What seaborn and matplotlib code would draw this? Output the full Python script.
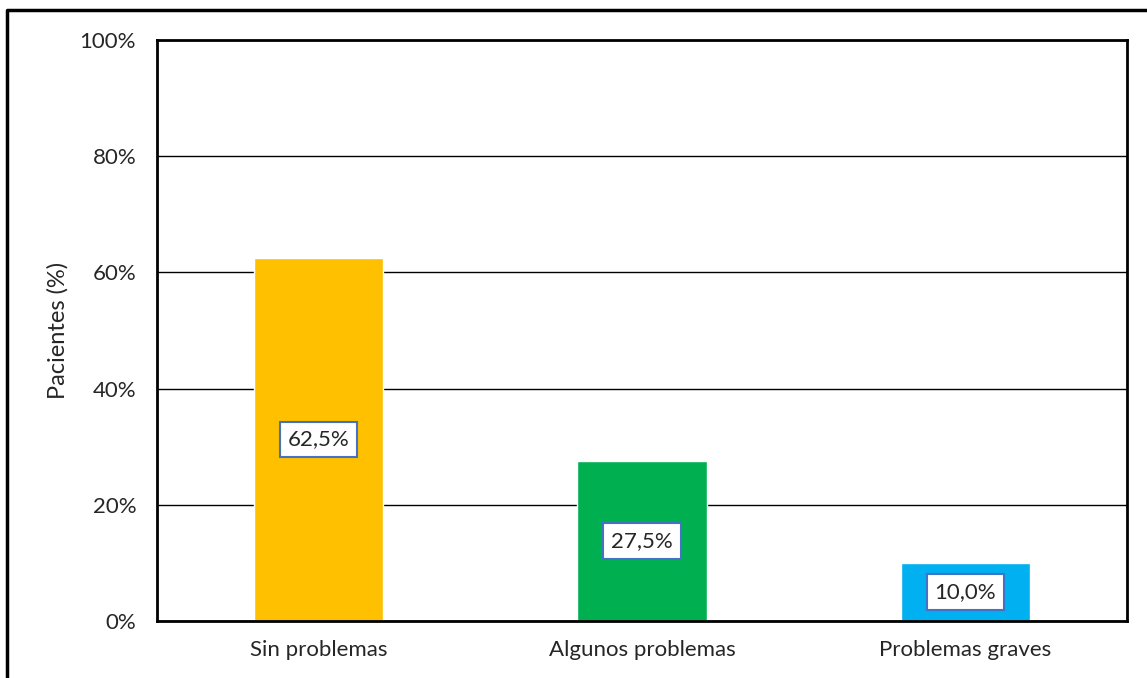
import numpy as np
import pandas as pd
import seaborn as sns
import matplotlib.pyplot as plt
from matplotlib.lines import Line2D

categories = ["Sin problemas", "Algunos problemas", "Problemas graves"]
values = [62.5, 27.5, 10.0]
labels = ["62,5%", "27,5%", "10,0%"]
colors = ["#FFC000", "#00B050", "#00B0F0"]

df = pd.DataFrame({"cat": categories, "val": values})

sns.set_style("white")
plt.rcParams['font.family'] = ['Lato', 'DejaVu Sans']

fig = plt.figure(figsize=(11.47, 6.78), dpi=100)
ax = fig.add_axes([157 / 1147, 1 - 621 / 678, (1127 - 157) / 1147, (621 - 40) / 678])

sns.barplot(data=df, x="cat", y="val", hue="cat", palette=colors, width=0.4,
            legend=False, ax=ax, saturation=1)

ax.set_ylim(0, 100)
ax.set_xlim(-0.5, 2.5)
ax.set_yticks(np.arange(0, 101, 20))
ax.set_yticklabels([f"{t}%" for t in range(0, 101, 20)])
ax.yaxis.grid(True, color="black", linewidth=1)
ax.set_axisbelow(True)
for s in ax.spines.values():
    s.set_visible(True)
    s.set_color("black")
    s.set_linewidth(2)
ax.tick_params(axis="both", length=0, labelsize=16)
ax.tick_params(axis="x", pad=14)
ax.tick_params(axis="y", pad=15)
ax.set_xlabel("")
ax.set_ylabel("Pacientes (%)", fontsize=17, labelpad=8)

for i, (v, lab) in enumerate(zip(values, labels)):
    ax.text(i, v / 2, lab, ha="center", va="center", fontsize=16,
            bbox=dict(boxstyle="square,pad=0.35", fc="white", ec="#4472C4", lw=1.5))

# outer frame (left and top only visible in the reference)
fig.add_artist(Line2D([7 / 1147, 7 / 1147, 1.0], [0.0, 1 - 10 / 678, 1 - 10 / 678],
                      color="black", linewidth=2.5, transform=fig.transFigure))

fig.savefig("out.png", dpi=100)
